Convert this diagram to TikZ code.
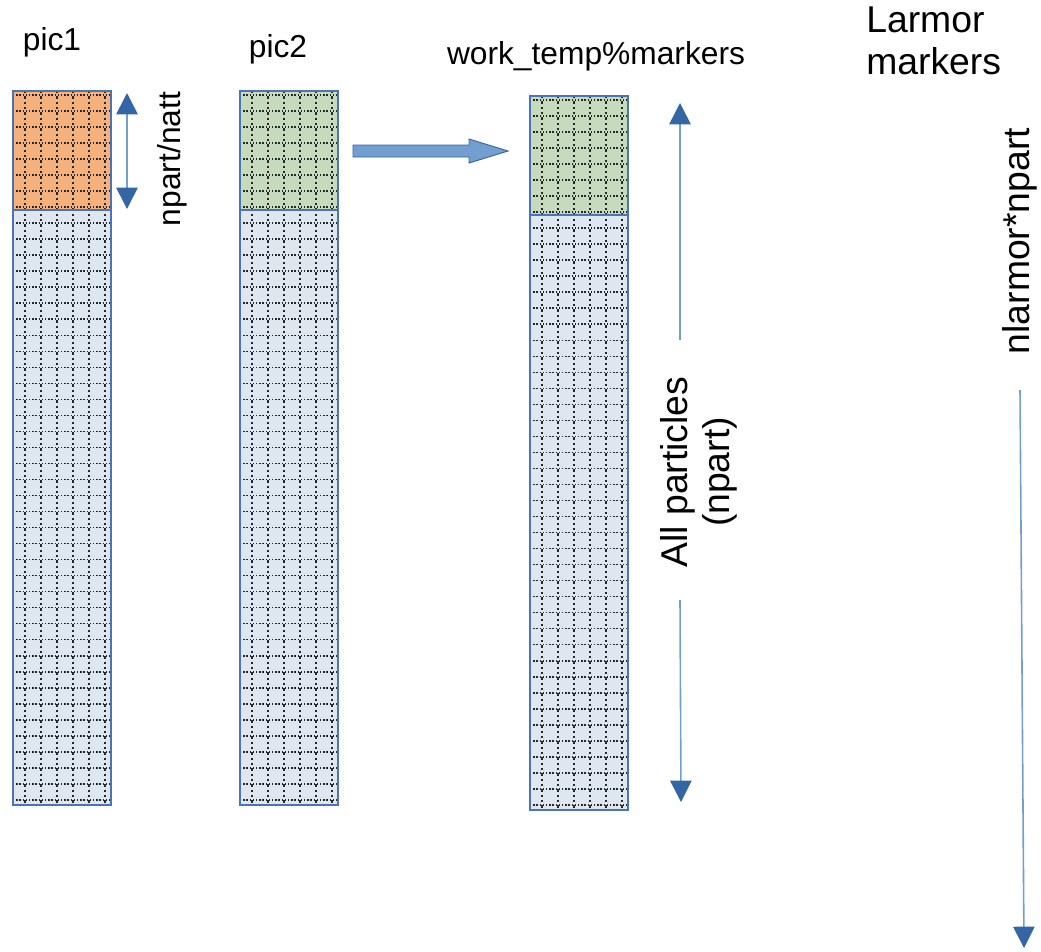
\documentclass[tikz,border=0pt]{standalone}
\usepackage{fontspec}
\setmainfont{Liberation Sans}
\usepackage{xcolor}
\usepackage{tikz}
\usetikzlibrary{positioning, arrows.meta, calc}
\definecolor{partfill}{HTML}{DEE6EF}
\definecolor{orangefill}{HTML}{F4B17C}
\definecolor{greenfill}{HTML}{C6DBBC}
\definecolor{colborder}{HTML}{4A74B5}
\definecolor{arrowdark}{HTML}{3465A4}
\definecolor{arrowlight}{HTML}{729FCF}
\tikzset{
    label/.style={
        font=\fontsize{23.8}{28}\selectfont,
        inner sep=0pt
    },
    biglabel/.style={
        font=\fontsize{28}{31.5}\selectfont,
        inner sep=0pt
    },
    hgrid/.style={
        black!85,
        line width=1.2pt,
        dash pattern=on 1.1pt off 1.3pt
    },
    vgrid/.style={
        black!85,
        line width=1.2pt,
        dash pattern=on 1.8pt off 2.2pt
    },
    colframe/.style={
        draw=colborder,
        line width=0.9pt
    },
    thinarrow/.style={
        draw=arrowlight,
        line width=1.2pt,
        -{Triangle[length=16pt,width=16pt,color=arrowdark]}
    },
    blockarrow/.style={
        fill=arrowlight,
        draw=arrowdark,
        line width=0.7pt
    }
}

\begin{document}
\begin{tikzpicture}[x=0.75pt,y=-0.75pt]
\useasboundingbox (0,0) rectangle (1041,951);

%---------------- columns ----------------

\foreach \cx/\cy/\topfill/\nm in {13/91/orangefill/pica, 240/91/greenfill/picb, 530/96/greenfill/work}{
    \fill[partfill] (\cx,\cy) rectangle ++(98,714);
    \fill[\topfill] (\cx,\cy) rectangle ++(98,119);
    \foreach \i in {0,...,44}
        \draw[hgrid] (\cx,\cy+4+16.02*\i) -- ++(98,0);
    \foreach \j in {12,28,44,60,76,92}
        \draw[vgrid] (\cx+\j,\cy) -- ++(0,714);
    \draw[colframe] (\cx,\cy) rectangle ++(98,714);
    \draw[colframe] (\cx,\cy) rectangle ++(98,119);
    \coordinate (\nm top) at (\cx+49,\cy);
}

%---------------- titles ----------------

\node[label] (pica) at (52,42) {pic1};
\node[label] (picb) at (278,49) {pic2};
\node[label] (work) at (596,56) {work\_temp\%markers};
\node[biglabel, anchor=west, align=left] (larmor) at (866,41) {Larmor\\markers};

%---------------- npart/natt ----------------

\coordinate (natttop) at (127,93);
\coordinate (nattbot) at (127,209);
\coordinate (nattmid) at (127,151);
\draw[thinarrow] (nattmid) -- (natttop);
\draw[thinarrow] (nattmid) -- (nattbot);
\node[label, rotate=90] (natt) at (172,159) {npart/natt};

%---------------- copy arrow ----------------

\coordinate (copystart) at (353,151);
\coordinate (copyend) at (508,151);
\draw[blockarrow] ($(copystart)+(0,-6)$) -- ($(copyend)+(-39,-6)$) -- ($(copyend)+(-39,-12)$)
    -- (copyend) -- ($(copyend)+(-39,12)$) -- ($(copyend)+(-39,6)$) -- ($(copystart)+(0,6)$) -- cycle;

%---------------- all particles ----------------

\node[biglabel, rotate=90, align=center] (allpart) at (699,472) {All particles\\(npart)};
\coordinate (alltop) at (680,103);
\coordinate (allbot) at (681,802);
\draw[thinarrow] (680,340) coordinate (alla) (alla) -- (alltop);
\draw[thinarrow] (680,600) coordinate (allb) (allb) -- (allbot);

%---------------- larmor ----------------

\node[biglabel, rotate=90] (nlarmor) at (1020,241) {nlarmor*npart};
\coordinate (lartop) at (1020,390);
\coordinate (larbot) at (1024,948);
\draw[thinarrow] (lartop) -- (larbot);

\end{tikzpicture}
\end{document}
